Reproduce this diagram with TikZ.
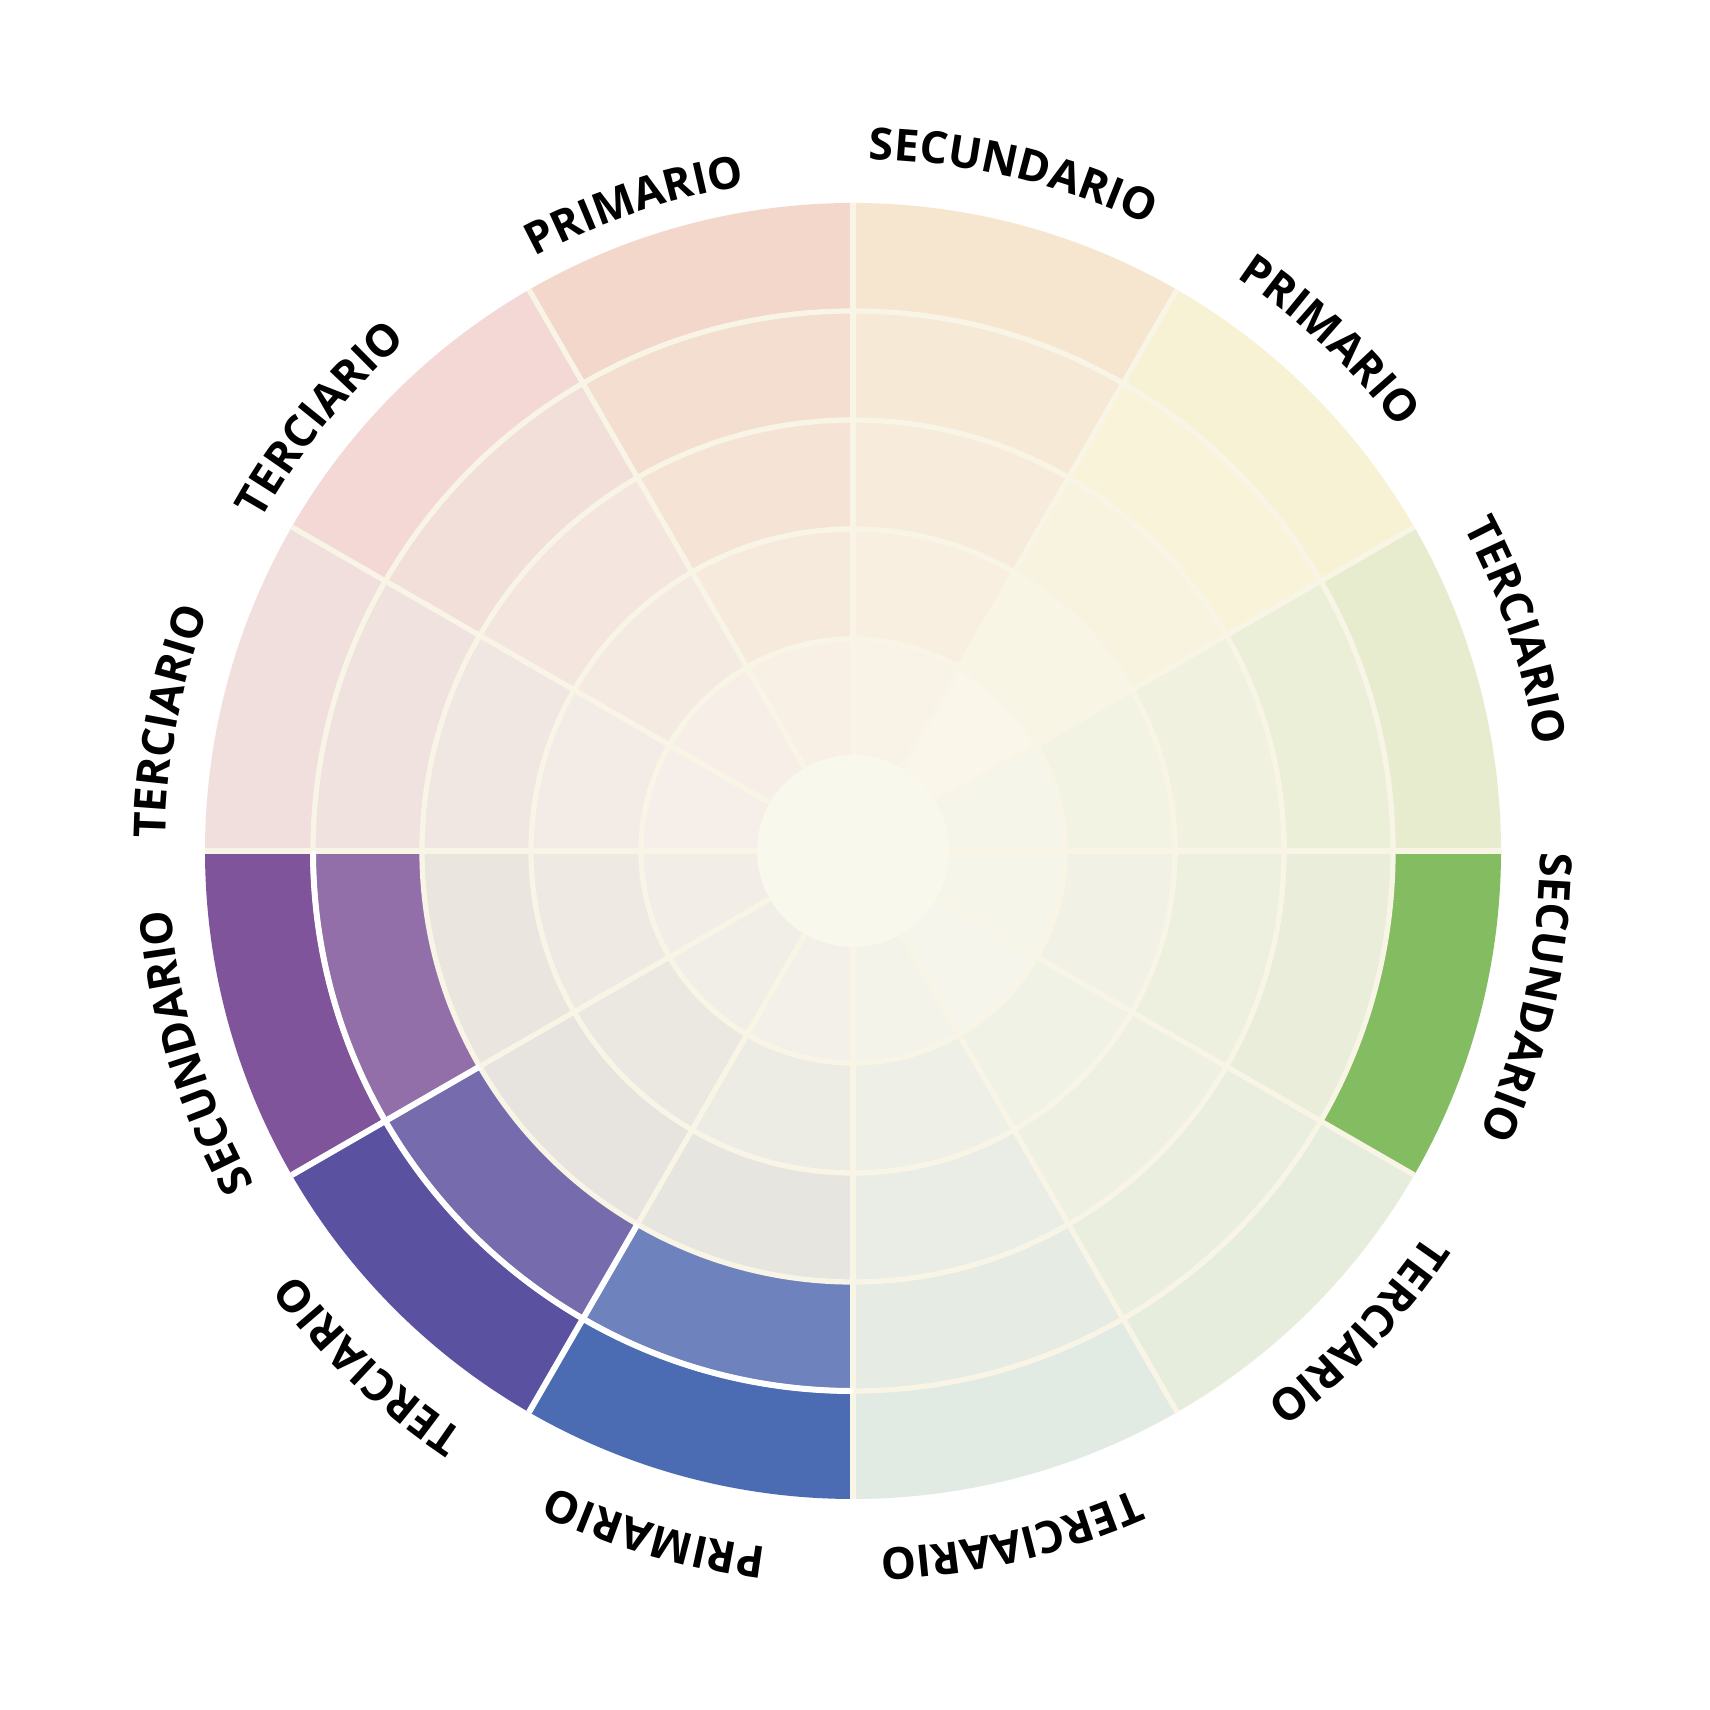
\documentclass[tikz,border=0pt]{standalone}
\usepackage{fontspec}
\newfontfamily\lblfont{Open Sans}
\usetikzlibrary{decorations.text}
\definecolor{creamline}{HTML}{F9F5E6}
\definecolor{centerc}{HTML}{F9F8EC}
\newcommand\wcell[4]{%
  \definecolor{cellc}{HTML}{#4}%
  \fill[cellc] ({30*#1}:#2) -- ({30*#1}:#3) arc[start angle={30*#1}, end angle={30*#1+30}, radius=#3]
    -- ({30*#1+30}:#2) arc[start angle={30*#1+30}, end angle={30*#1}, radius=#2] -- cycle;}
\newcommand\wsector[6]{%
  \wcell{#1}{540}{648}{#2}\wcell{#1}{431}{540}{#3}\wcell{#1}{322}{431}{#4}%
  \wcell{#1}{212}{322}{#5}\wcell{#1}{90}{212}{#6}}
\newcommand\wlabel[3]{%
  \path[decorate, decoration={text along path, text align=center,
     text={|\lblfont\bfseries\fontsize{12.6}{12.6}\selectfont|#3}}]
     ({#1+22}:#2) arc[start angle={#1+22}, end angle={#1-22}, radius=#2];}
\tikzset{gridline/.style={creamline, line width=1.5pt},
         hiline/.style={white, line width=1.7pt}}
\begin{document}
\begin{tikzpicture}[x=0.01cm,y=0.01cm]
\useasboundingbox (0,0) rectangle (1710,1710);
\fill[white] (0,0) rectangle (1710,1710);
\begin{scope}[shift={(853,859)}]
  \wsector{0}{E7ECCE}{ECEFD8}{F0F1DE}{F3F3E3}{F6F5E9}
  \wsector{1}{F7F2D3}{F8F3D9}{F8F3DF}{F9F5E4}{FAF7EA}
  \wsector{2}{F6E6D0}{F6E9D5}{F7ECDB}{F8EFE1}{F9F3E7}
  \wsector{3}{F3D7CA}{F4DECF}{F5E4D6}{F6EADD}{F8F0E4}
  \wsector{4}{F3D8D5}{F3DFDA}{F4E5DE}{F5EAE2}{F7EFE7}
  \wsector{5}{F0DFDC}{F0E3DF}{F1E7E2}{F3EBE5}{F6EFE9}
  \wsector{6}{7F549A}{936FAA}{EBE5E0}{EEE9E3}{F2EEE7}
  \wsector{7}{5A52A0}{766BAD}{E7E3DE}{EBE8E2}{F1EEE7}
  \wsector{8}{4B6CB3}{6E82BE}{E6E5DF}{ECEBE4}{F2F0E8}
  \wsector{9}{E2EAE4}{E6EBE4}{EAEDE5}{EEEFE7}{F3F3EA}
  \wsector{10}{E7EDDC}{EAEEDE}{EEF0E2}{F1F2E6}{F5F5EB}
  \wsector{11}{84BC62}{E9EDDA}{EDEFDF}{F1F2E5}{F5F5EA}
  % grid
  \foreach \r in {212,322,431,540} \draw[gridline] (0,0) circle[radius=\r];
  \foreach \a in {0,30,...,330} \draw[gridline] (\a:96) -- (\a:648);
  % highlighted separators
  \draw[hiline] (180:540) arc[start angle=180, end angle=270, radius=540];
  \draw[hiline] (210:431) -- (210:648);
  \draw[hiline] (240:431) -- (240:648);
  % centre
  \fill[centerc] (0,0) circle[radius=96];
  % labels
  \wlabel{76.7}{692}{SECUNDARIO}
  \wlabel{108.7}{674}{PRIMARIO}
  \wlabel{47}{690}{PRIMARIO}
  \wlabel{18.4}{691}{TERCIARIO}
  \wlabel{347.8}{687}{SECUNDARIO}
  \wlabel{316.5}{689}{TERCIARIO}
  \wlabel{283}{698}{TERCIAARIO}
  \wlabel{253.8}{702}{PRIMARIO}
  \wlabel{226.7}{699}{TERCIARIO}
  \wlabel{197}{685}{SECUNDARIO}
  \wlabel{169.3}{688}{TERCIARIO}
  \wlabel{141}{678}{TERCIARIO}
\end{scope}
\end{tikzpicture}
\end{document}
